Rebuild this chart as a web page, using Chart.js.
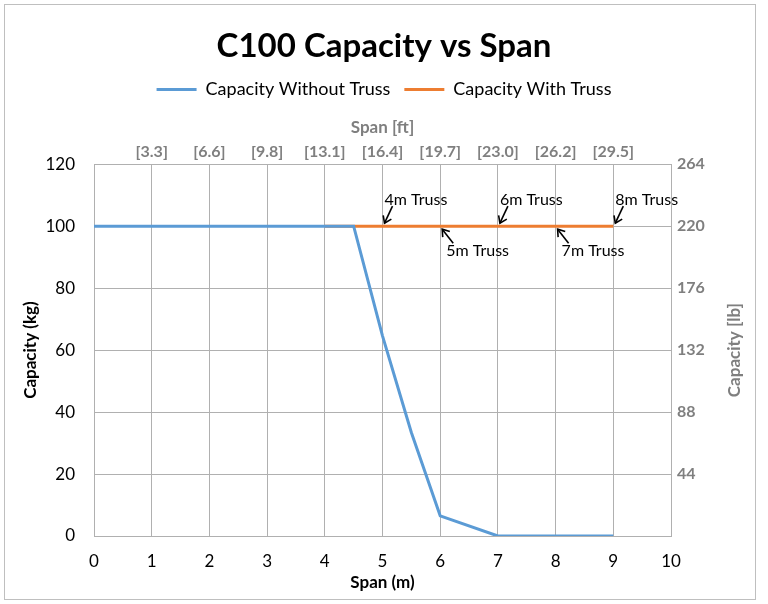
<!DOCTYPE html>
<html>
<head>
<meta charset="utf-8">
<script src="https://cdn.jsdelivr.net/npm/chart.js@4"></script>
<style>
  html, body { margin: 0; padding: 0; background: #fff; }
  #wrap { position: relative; width: 768px; height: 604px; }
  #frame { position: absolute; left: 4px; top: 4px; width: 752px; height: 596px; border: 1px solid #bfbfbf; box-sizing: border-box; pointer-events: none; }
</style>
</head>
<body>
<div id="wrap">
  <canvas id="ChartSpan" width="768" height="604"></canvas>
  <div id="frame"></div>
</div>
<script>
// data
const spanSinTruss = [0, 4.5, 5, 5.5, 6, 7, 8, 9];
const capSinTruss = [100, 100, 64.6, 33.4, 6.5, 0, 0, 0];
const spanConTruss = [4, 5, 6, 7, 8, 9];
const capConTruss = [100, 100, 100, 100, 100, 100];
const etiquetasFt = ['[3.3]', '[6.6]', '[9.8]', '[13.1]', '[16.4]', '[19.7]', '[23.0]', '[26.2]', '[29.5]'];
const trussLargos = [4, 5, 6, 7, 8];
const trussSpan = [5, 6, 7, 8, 9];

const gris = '#7f7f7f';
const fuente = "Lato, sans-serif";

const toPoints = (xs, ys) => xs.map((x, i) => ({ x: x, y: ys[i] }));

// flechas con texto "Nm Truss"
const flechasTruss = {
    id: 'flechasTruss',
    afterDatasetsDraw(chart) {
        const { ctx, scales: { x, y } } = chart;
        ctx.save();
        ctx.strokeStyle = '#000';
        ctx.lineWidth = 1.6;
        ctx.fillStyle = '#000';
        ctx.font = `16px ${fuente}`;
        trussLargos.forEach((largo, i) => {
            const px = x.getPixelForValue(trussSpan[i]);
            const py = y.getPixelForValue(capConTruss[i + 1]);
            const arriba = i % 2 === 0;
            const dy = arriba ? -1 : 1;
            const tipX = px + 2, tipY = py + dy * 3;
            const tailX = px + (arriba ? 10 : 13), tailY = py + dy * (arriba ? 20 : 17);
            ctx.beginPath();
            ctx.moveTo(tailX, tailY);
            ctx.lineTo(tipX, tipY);
            ctx.stroke();
            // punta
            const ang = Math.atan2(tipY - tailY, tipX - tailX);
            ctx.beginPath();
            ctx.moveTo(tipX + 8 * Math.cos(ang + Math.PI - 0.6), tipY + 8 * Math.sin(ang + Math.PI - 0.6));
            ctx.lineTo(tipX, tipY);
            ctx.lineTo(tipX + 8 * Math.cos(ang + Math.PI + 0.6), tipY + 8 * Math.sin(ang + Math.PI + 0.6));
            ctx.stroke();
            ctx.textAlign = 'left';
            ctx.textBaseline = 'middle';
            if (arriba) {
                ctx.fillText(`${largo}m Truss`, px + 2, py - 26);
            } else {
                ctx.fillText(`${largo}m Truss`, px + 6, py + 25);
            }
        });
        ctx.restore();
    }
};

// titulo del eje derecho, leido de abajo hacia arriba
const tituloDerecho = {
    id: 'tituloDerecho',
    afterDraw(chart) {
        const { ctx, chartArea } = chart;
        ctx.save();
        ctx.translate(735, (chartArea.top + chartArea.bottom) / 2);
        ctx.rotate(-Math.PI / 2);
        ctx.fillStyle = gris;
        ctx.font = `bold 17px ${fuente}`;
        ctx.textAlign = 'center';
        ctx.textBaseline = 'middle';
        ctx.fillText('Capacity [lb]', 0, 0);
        ctx.restore();
    }
};

const ctx = document.getElementById('ChartSpan');
Chart.defaults.font.family = fuente;

new Chart(ctx, {
    type: 'line',
    data: {
        datasets: [{
            label: 'Capacity Without Truss',
            data: toPoints(spanSinTruss, capSinTruss),
            borderColor: '#5b9bd5',
            backgroundColor: '#5b9bd5',
            borderWidth: 3,
            pointRadius: 0,
            xAxisID: 'x',
            yAxisID: 'y'
        }, {
            label: 'Capacity With Truss',
            data: toPoints(spanConTruss, capConTruss),
            borderColor: '#ed7d31',
            backgroundColor: '#ed7d31',
            borderWidth: 3,
            pointRadius: 0,
            xAxisID: 'x',
            yAxisID: 'y'
        }]
    },
    options: {
        responsive: false,
        animation: false,
        layout: { padding: { left: 0, right: 0, top: 13, bottom: 11 } },
        scales: {
            x: {
                type: 'linear', position: 'bottom', min: 0, max: 10,
                ticks: { stepSize: 1, color: '#000', font: { size: 17 }, padding: 15 },
                grid: { color: '#b0b0b0', drawTicks: false },
                border: { color: '#b0b0b0' },
                title: { display: true, text: 'Span (m)', color: '#000', font: { size: 17, weight: 'bold' }, padding: 0 },
                afterFit: (s) => { s.height = 57; }
            },
            x2: {
                type: 'linear', position: 'top', min: 0, max: 10,
                ticks: {
                    stepSize: 1, color: gris, font: { size: 16, weight: 'bold' }, padding: 3,
                    callback: (v) => (v >= 1 && v <= 9) ? etiquetasFt[v - 1] : ''
                },
                grid: { drawOnChartArea: false, drawTicks: false },
                border: { display: false },
                title: { display: true, text: 'Span [ft]', color: gris, font: { size: 17, weight: 'bold' }, padding: { top: 9, bottom: 1 } }
            },
            y: {
                position: 'left', min: 0, max: 120,
                ticks: { stepSize: 20, color: '#000', font: { size: 17 }, padding: 19 },
                grid: { color: '#b0b0b0', drawTicks: false },
                border: { display: false },
                title: { display: true, text: 'Capacity (kg)', color: '#000', font: { size: 17, weight: 'bold' }, padding: 20 },
                afterFit: (s) => { s.width = 94; }
            },
            y2: {
                position: 'right', min: 0, max: 264,
                ticks: {
                    stepSize: 44, color: gris, font: { size: 16, weight: 'bold' }, padding: 6,
                    callback: (v) => v === 0 ? '' : v
                },
                grid: { drawOnChartArea: false, drawTicks: false },
                border: { color: '#b0b0b0' },
                afterFit: (s) => { s.width = 97; }
            }
        },
        plugins: {
            title: {
                display: true,
                text: 'C100 Capacity vs Span',
                color: '#000',
                font: { size: 33, weight: 'bold' },
                padding: { top: 14, bottom: 0 }
            },
            legend: {
                position: 'top',
                labels: {
                    color: '#000', font: { size: 18 },
                    usePointStyle: true, pointStyle: 'line', pointStyleWidth: 40,
                    boxHeight: 3, padding: 14
                }
            },
            tooltip: { enabled: false }
        }
    },
    plugins: [flechasTruss, tituloDerecho]
});
</script>
</body>
</html>
